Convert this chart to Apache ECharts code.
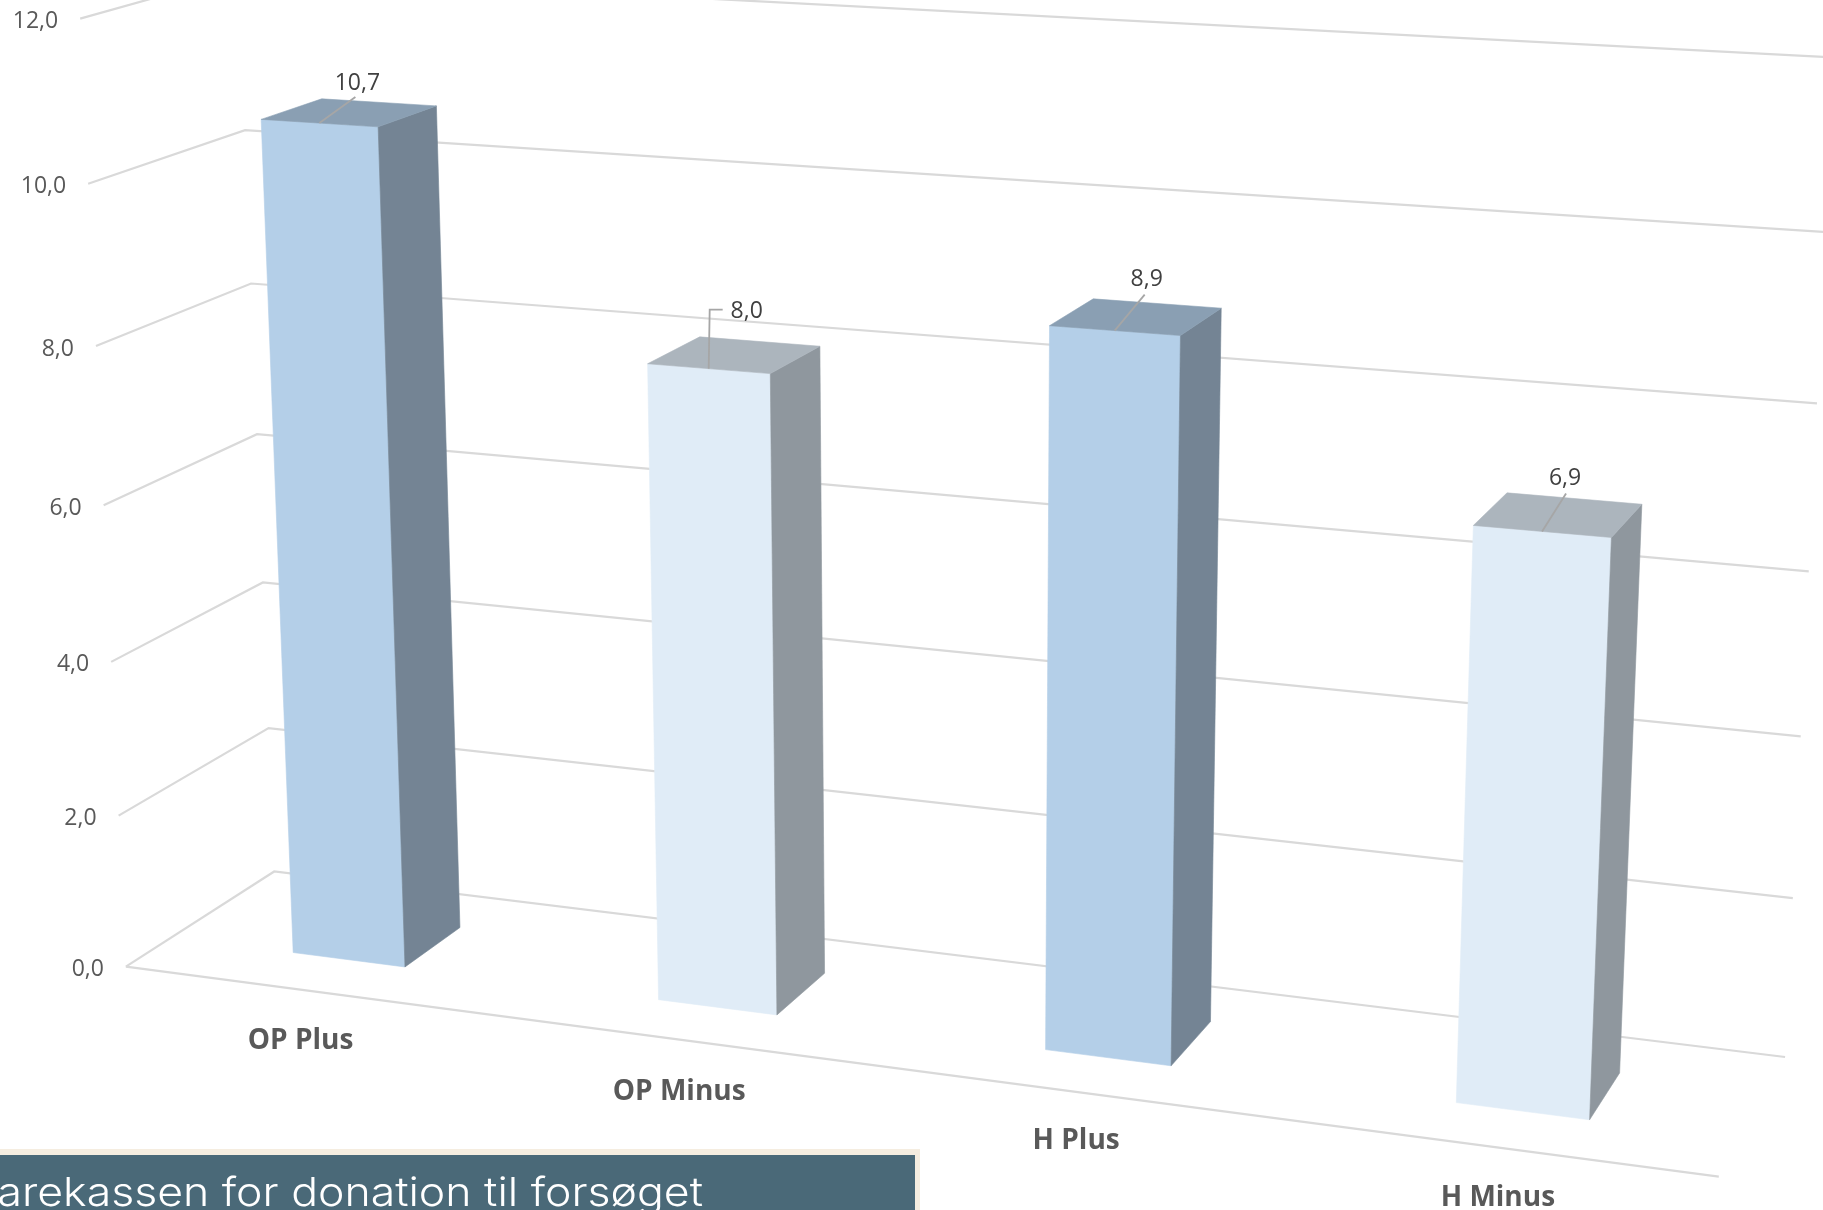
<!DOCTYPE html>
<html><head><meta charset="utf-8">
<style>html,body{margin:0;padding:0;background:#fff;overflow:hidden}#c{width:1823px;height:1210px}</style>
<script src="https://cdn.jsdelivr.net/npm/echarts@6/dist/echarts.min.js"></script>
</head><body><div id="c"></div>
<script>
// ---- data ----
const categories = ['OP Plus', 'OP Minus', 'H Plus', 'H Minus'];
const values = [10.69, 8.04, 8.87, 6.94];
const valueLabels = ['10,7', '8,0', '8,9', '6,9'];
const ticks = [0, 2, 4, 6, 8, 10, 12];
const tickLabels = ['0,0', '2,0', '4,0', '6,0', '8,0', '10,0', '12,0'];
const bannerText = 'Tak til Sparekassen for donation til forsøget';

// ---- styling / camera (not data) ----
const W = 1823, H = 1210;
const calib = [ // [u, v, w] of the chart box -> picture point, used to fit the perspective camera
  [0, 0, 0, 125.6, 966.1], [0, 1, 0, 80.5, 20], [0, 0, 1, 274.4, 872], [0, 1, 1, 238.7, -27],
  [1, 0, 1, 1784.6, 1056.8], [1, 1, 1, 1833.8, 57], [1, 0, 0, 1719.5, 1176.6],
  [0, .5, 0, 103, 504.6], [0, .5, 1, 257.6, 434.8], [1, .5, 1, 1808.6, 572]
];
const barHalf = 0.039, depthFront = 0.3, depthBack = 0.7;
const palettes = [
  {front: '#b4cfe8', side: '#748494', top: '#8a9fb3'},
  {front: '#e0ecf7', side: '#8f979e', top: '#acb5bd'}
];
const leaders = [ // leader path and label centre, as offsets from the bar's top front edge
  {path: [[36, -26]], label: [38, -40]},
  {path: [[1, -59], [14, -59]], label: [38, -57]},
  {path: [[30, -36]], label: [32, -51]},
  {path: [[24, -38]], label: [23, -53]}
];
const categoryNudge = [[-4.5, 51], [0, 52], [0, 49], [0, 50]]; // label offset below the floor edge
const FONT = '"Open Sans","Noto Sans",sans-serif';

function fitCamera(pts) {
  const n = 11, A = Array.from({length: n}, () => new Array(n + 1).fill(0));
  const add = r => { for (let i = 0; i < n; i++) { for (let j = 0; j < n; j++) A[i][j] += r[i] * r[j]; A[i][n] += r[i] * r[n]; } };
  pts.forEach(([X, Y, Z, px, py]) => {
    const x = px / 1000, y = py / 1000;
    add([X, Y, Z, 1, 0, 0, 0, 0, -x * X, -x * Y, -x * Z, x]);
    add([0, 0, 0, 0, X, Y, Z, 1, -y * X, -y * Y, -y * Z, y]);
  });
  for (let c = 0; c < n; c++) {
    let m = c; for (let r = c + 1; r < n; r++) if (Math.abs(A[r][c]) > Math.abs(A[m][c])) m = r;
    [A[c], A[m]] = [A[m], A[c]];
    for (let r = 0; r < n; r++) if (r !== c) { const f = A[r][c] / A[c][c]; for (let k = c; k <= n; k++) A[r][k] -= f * A[c][k]; }
  }
  return A.map((row, i) => row[n] / row[i]);
}
const P = fitCamera(calib);
function project(u, v, w) {
  const d = P[8] * u + P[9] * v + P[10] * w + 1;
  return [1000 * (P[0] * u + P[1] * v + P[2] * w + P[3]) / d, 1000 * (P[4] * u + P[5] * v + P[6] * w + P[7]) / d];
}
// flat axis position -> unit box coordinate
const toU = p => p[0] / W, toV = p => 1 - p[1] / H;

function poly(points, fill) {
  return {type: 'polygon', shape: {points}, style: {fill, stroke: fill, lineWidth: 0.6}, silent: true};
}
function line(points, stroke, lineWidth) {
  return {type: 'polyline', shape: {points}, style: {stroke, lineWidth, fill: null}, silent: true};
}
function text(x, y, t, fill, size, weight, align) {
  return {type: 'text', silent: true, style: {x, y, text: t, fill, fontSize: size, fontWeight: weight, fontFamily: FONT, align: align || 'center', verticalAlign: 'middle'}};
}

function renderGrid(params, api) {
  const i = params.dataIndex;
  const v = toV(api.coord([0, api.value(0)]));
  const a = project(0, v, 0), b = project(0, v, 1), c = project(1, v, 1);
  const children = [line([a, b, c], '#d9d9d9', 2.2), text(a[0] - 22, a[1] + 3, tickLabels[i], '#595959', 23, 400, 'right')];
  if (i === 0) children.push(line([a, project(1, v, 0)], '#d9d9d9', 2.2));
  return {type: 'group', children};
}
function renderBar(params, api) {
  const i = params.dataIndex;
  const flat = api.coord([api.value(0), api.value(1)]);
  const uc = toU(flat), v = toV(flat);
  const u0 = uc - barHalf, u1 = uc + barHalf;
  const pal = palettes[i % 2];
  const ftl = project(u0, v, depthFront), ftr = project(u1, v, depthFront), btl = project(u0, v, depthBack), btr = project(u1, v, depthBack);
  const fbl = project(u0, 0, depthFront), fbr = project(u1, 0, depthFront), bbr = project(u1, 0, depthBack);
  const s = project(uc, v, depthFront);
  const L = leaders[i];
  const path = [s].concat(L.path.map(o => [s[0] + o[0], s[1] + o[1]]));
  const base = project(uc, 0, 0);
  return {type: 'group', children: [
    poly([ftl, ftr, fbr, fbl], pal.front),
    poly([ftr, btr, bbr, fbr], pal.side),
    poly([ftl, btl, btr, ftr], pal.top),
    line(path, '#a6a6a6', 1.8),
    text(s[0] + L.label[0], s[1] + L.label[1], valueLabels[i], '#404040', 23, 400),
    text(base[0] + categoryNudge[i][0], base[1] + categoryNudge[i][1], categories[i], '#595959', 28, 700)
  ]};
}

const chart = echarts.init(document.getElementById('c'), null, {renderer: 'canvas', width: W, height: H});
chart.setOption({
  backgroundColor: '#ffffff',
  animation: false,
  grid: {left: 0, top: 0, width: W, height: H},
  xAxis: {type: 'category', data: categories, show: false},
  yAxis: {type: 'value', min: 0, max: 12, interval: 2, show: false},
  series: [
    {type: 'custom', coordinateSystem: 'cartesian2d', clip: false, silent: true, encode: {x: 1, y: 0},
     data: ticks.map((t, i) => [t, i]), renderItem: renderGrid, z: 1},
    {type: 'custom', coordinateSystem: 'cartesian2d', clip: false, silent: true, encode: {x: 0, y: 1},
     data: values.map((val, i) => [i, val]), renderItem: renderBar, z: 2}
  ],
  graphic: {elements: [
    {type: 'rect', shape: {x: -10, y: 1149, width: 930, height: 80}, style: {fill: '#f5ede0'}, z: 5, silent: true},
    {type: 'rect', shape: {x: -10, y: 1155, width: 925, height: 70}, style: {fill: '#4a6978'}, z: 6, silent: true},
    {type: 'text', x: 703, y: 1194, scaleX: 1.115, z: 50, silent: true, style: {text: bannerText, fill: '#ffffff', fontSize: 40, fontWeight: 300, fontFamily: 'Inter, sans-serif', align: 'right', verticalAlign: 'middle'}}
  ]}
});
</script></body></html>
